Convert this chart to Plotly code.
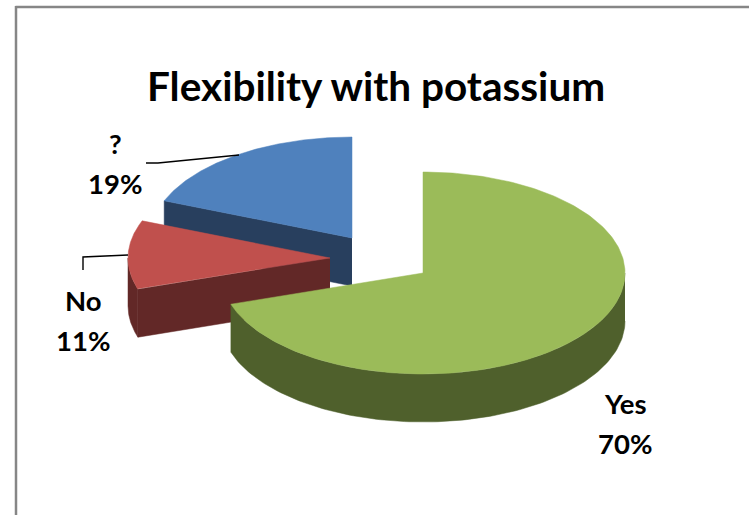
import numpy as np
import plotly.graph_objects as go

categories = ["Yes", "No", "?"]
values = [70, 11, 19]
top_colors = ["#9BBB59", "#C0504D", "#4F81BD"]
side_colors = ["#4F602C", "#622827", "#283F5E"]
apex_x = [423, 330, 352]
apex_y = [273, 258, 238]
label_x = [625, 83, 115]
label_y = [403, 300, 143]
draw_order = [2, 1, 0]

RX, RY, DEPTH = 202, 101, 48
W, H = 749, 515

total = sum(values)
spans = [v / total * 360 for v in values]
starts = [sum(spans[:i]) for i in range(len(values))]


def arc(cx, cy, a0, a1, n=120):
    t = np.radians(np.linspace(a0, a1, n))
    return cx + RX * np.sin(t), cy - RY * np.cos(t)


def poly(fig, xs, ys, color, name):
    fig.add_trace(go.Scatter(x=list(xs), y=list(ys), mode="lines", fill="toself",
                             fillcolor=color, line=dict(color=color, width=0.5),
                             hoverinfo="text", text=name, showlegend=False))


fig = go.Figure()
for i in draw_order:
    a0, a1 = starts[i], starts[i] + spans[i]
    cx, cy = apex_x[i], apex_y[i]
    name = f"{categories[i]}: {values[i]}%"
    # side wall on the leading radial edge, when it faces the viewer
    if np.cos(np.radians(a0 - 90)) < -1e-6:
        ex, ey = arc(cx, cy, a0, a0, 1)
        poly(fig, [cx, ex[0], ex[0], cx], [cy, ey[0], ey[0] + DEPTH, cy + DEPTH],
             side_colors[i], name)
    # visible part of the outer rim (lower half of the ellipse)
    r0, r1 = max(a0, 90), min(a1, 270)
    if r1 > r0:
        x, y = arc(cx, cy, r0, r1)
        poly(fig, np.r_[x, x[::-1]], np.r_[y, y[::-1] + DEPTH], side_colors[i], name)
    # top face
    x, y = arc(cx, cy, a0, a1, 240)
    poly(fig, np.r_[cx, x, cx], np.r_[cy, y, cy], top_colors[i], name)

# leader lines
leaders = [([146, 158, 239], [163, 163, 155]), ([83, 83, 128], [270, 257, 255])]
for lx, ly in leaders:
    fig.add_trace(go.Scatter(x=lx, y=ly, mode="lines", line=dict(color="#000000", width=1.4),
                             hoverinfo="skip", showlegend=False))

font = dict(family="Lato, Carlito, sans-serif", color="#000000")
for i, c in enumerate(categories):
    fig.add_annotation(x=label_x[i], y=label_y[i], text=f"<b>{c}</b>", showarrow=False,
                       font=dict(size=27.5, **font))
    fig.add_annotation(x=label_x[i], y=label_y[i] + 40, text=f"<b>{values[i]}%</b>", showarrow=False,
                       font=dict(size=27.5, **font))
fig.add_annotation(x=376, y=85, text="<b>Flexibility with potassium</b>", showarrow=False,
                   font=dict(size=40.5, **font))

frame = dict(color="#868686", width=2.5)
fig.add_shape(type="line", x0=15.5, y0=7, x1=W, y1=7, line=frame, layer="below")
fig.add_shape(type="line", x0=16, y0=6, x1=16, y1=H, line=frame, layer="below")

fig.update_xaxes(range=[0, W], visible=False, fixedrange=True)
fig.update_yaxes(range=[H, 0], visible=False, fixedrange=True)
fig.update_layout(width=W, height=H, margin=dict(l=0, r=0, t=0, b=0),
                  paper_bgcolor="#FFFFFF", plot_bgcolor="#FFFFFF", showlegend=False)
fig.write_html("out.html", config={"displayModeBar": False},
               post_script="document.body.style.margin='0';document.body.style.overflow='hidden';")
